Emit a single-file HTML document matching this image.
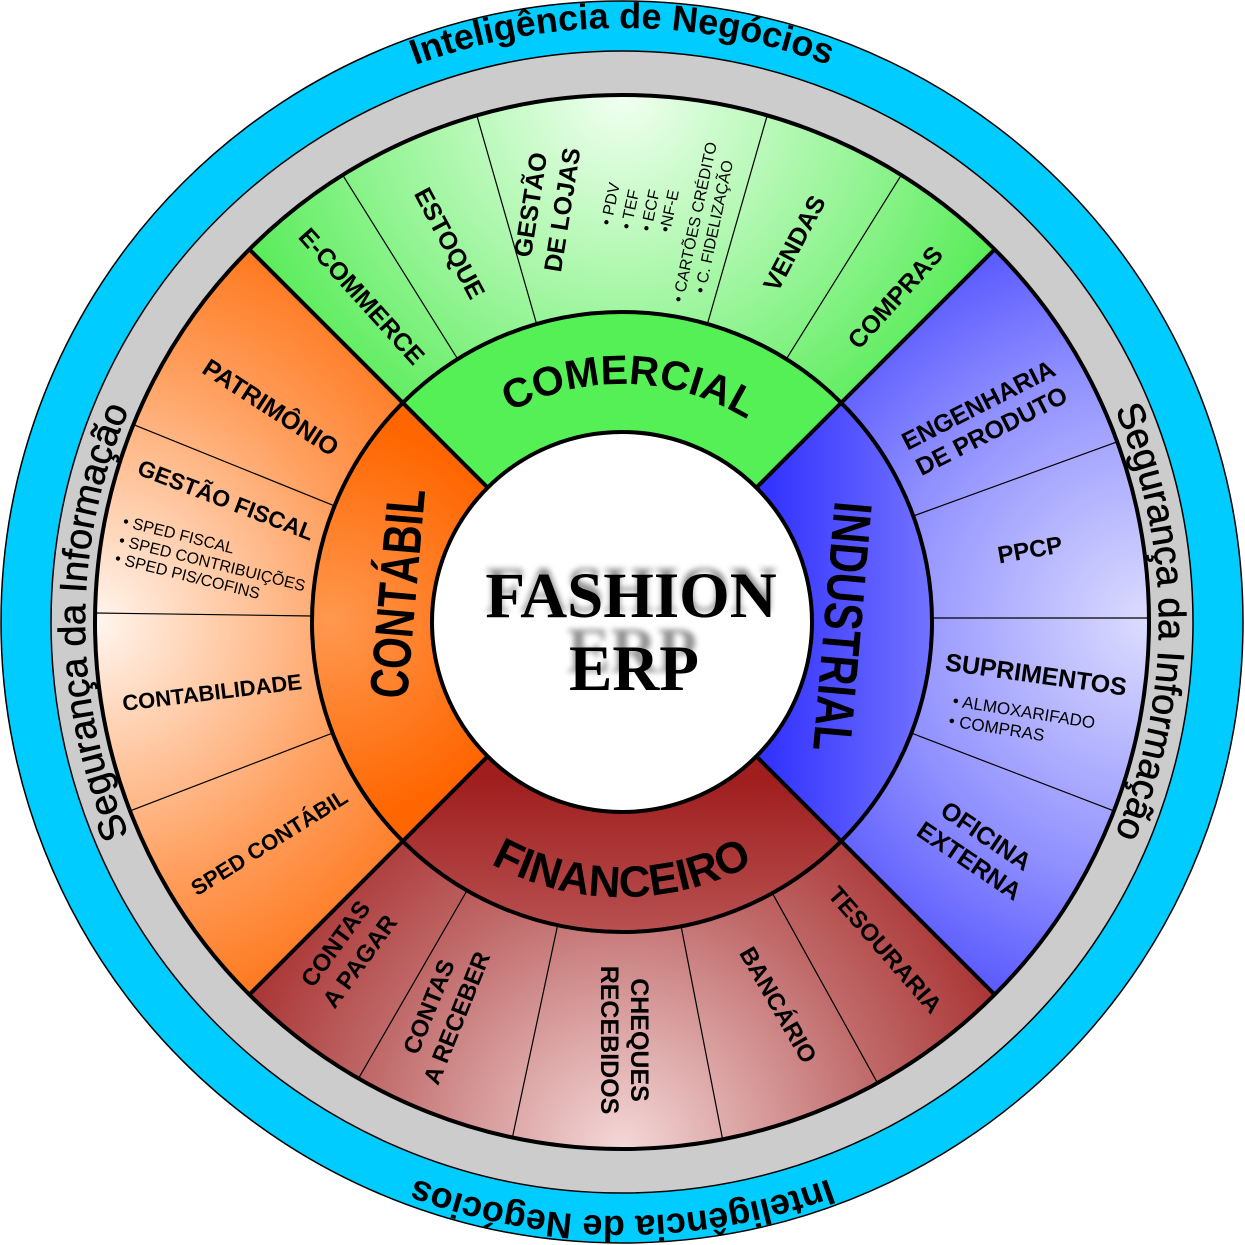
<!DOCTYPE html>
<html><head><meta charset="utf-8"><style>html,body{margin:0;padding:0;background:#fff}svg{display:block}</style></head>
<body>
<svg width="1245" height="1245" viewBox="0 0 1245 1245" xmlns="http://www.w3.org/2000/svg" font-family="'Liberation Sans', sans-serif">
<defs>
<radialGradient id="gG" gradientUnits="userSpaceOnUse" cx="622" cy="95" r="470"><stop offset="0" stop-color="#f2fff2"/><stop offset="0.5" stop-color="#9af59a"/><stop offset="1" stop-color="#3ee83e"/></radialGradient>
<radialGradient id="gO" gradientUnits="userSpaceOnUse" cx="95" cy="622" r="470"><stop offset="0" stop-color="#fff6ef"/><stop offset="0.55" stop-color="#ffa060"/><stop offset="1" stop-color="#ff6600"/></radialGradient>
<radialGradient id="gB" gradientUnits="userSpaceOnUse" cx="1149" cy="622" r="470"><stop offset="0" stop-color="#dcdcff"/><stop offset="0.55" stop-color="#9090ff"/><stop offset="1" stop-color="#4040ff"/></radialGradient>
<radialGradient id="gR" gradientUnits="userSpaceOnUse" cx="622" cy="1149" r="470"><stop offset="0" stop-color="#f4d8d8"/><stop offset="0.55" stop-color="#c06a6a"/><stop offset="1" stop-color="#a01c1c"/></radialGradient>
<radialGradient id="rO" gradientUnits="userSpaceOnUse" cx="330" cy="622" r="200"><stop offset="0" stop-color="#ff9850"/><stop offset="1" stop-color="#ff6600"/></radialGradient>
<linearGradient id="rB" gradientUnits="userSpaceOnUse" x1="770" y1="0" x2="935" y2="0"><stop offset="0" stop-color="#3434ff"/><stop offset="1" stop-color="#7474ff"/></linearGradient>
<linearGradient id="rR" gradientUnits="userSpaceOnUse" x1="0" y1="780" x2="0" y2="935"><stop offset="0" stop-color="#a01e1e"/><stop offset="1" stop-color="#b85252"/></linearGradient>
<filter id="blur" x="-10%" y="-30%" width="120%" height="160%"><feGaussianBlur stdDeviation="3"/></filter>
<path id="pCom" d="M415.9,503 A238,238 0 0 1 828.1,503"/>
<path id="pFin" d="M383.8,759.5 A275,275 0 0 0 860.2,759.5"/>
<path id="pTop" d="M107.6,325 A594,594 0 0 1 1136.4,325"/>
<path id="pBot" d="M1136.4,919 A594,594 0 0 1 107.6,919"/>
<path id="pLeft" d="M353.5,1087 A537,537 0 0 1 353.5,157"/>
<path id="pRight" d="M890.5,157 A537,537 0 0 1 890.5,1087"/>
</defs>

<circle cx="622" cy="622" r="621" fill="#00ccff" stroke="#000" stroke-width="1.5"/>
<circle cx="622" cy="622" r="571" fill="#cccccc" stroke="#000" stroke-width="1.5"/>

<path d="M622,622 L249.4,249.4 A527,527 0 0 1 994.6,249.4 Z" fill="url(#gG)"/>
<path d="M622,622 L994.6,249.4 A527,527 0 0 1 994.6,994.6 Z" fill="url(#gB)"/>
<path d="M622,622 L994.6,994.6 A527,527 0 0 1 249.4,994.6 Z" fill="url(#gR)"/>
<path d="M622,622 L249.4,994.6 A527,527 0 0 1 249.4,249.4 Z" fill="url(#gO)"/>
<path d="M622,622 L402.8,402.8 A310,310 0 0 1 841.2,402.8 Z" fill="#55f055"/>
<path d="M622,622 L841.2,402.8 A310,310 0 0 1 841.2,841.2 Z" fill="url(#rB)"/>
<path d="M622,622 L841.2,841.2 A310,310 0 0 1 402.8,841.2 Z" fill="url(#rR)"/>
<path d="M622,622 L402.8,841.2 A310,310 0 0 1 402.8,402.8 Z" fill="url(#rO)"/>

<g stroke="#000" stroke-width="1.2">
<line x1="536.6" y1="324" x2="476.8" y2="115.4"/>
<line x1="707.4" y1="324" x2="767.2" y2="115.4"/>
<line x1="457.7" y1="359.1" x2="342.7" y2="175.1"/>
<line x1="786.3" y1="359.1" x2="901.3" y2="175.1"/>
<line x1="932" y1="618" x2="1149" y2="618"/>
<line x1="913.3" y1="516" x2="1117.2" y2="441.8"/>
<line x1="911.4" y1="733.1" x2="1114" y2="810.9"/>
<line x1="312" y1="616" x2="95" y2="613"/>
<line x1="334.6" y1="505.9" x2="133.4" y2="424.6"/>
<line x1="332.6" y1="733.1" x2="130" y2="810.9"/>
<line x1="467" y1="890.5" x2="358.5" y2="1078.4"/>
<line x1="557.6" y1="925.2" x2="512.4" y2="1137.5"/>
<line x1="681.1" y1="926.3" x2="722.6" y2="1139.3"/>
<line x1="772.3" y1="893.1" x2="877.5" y2="1082.9"/>
</g>
<g stroke="#000" stroke-width="4" fill="none">
<circle cx="622" cy="622" r="527"/>
<circle cx="622" cy="622" r="310"/>
<line x1="249.4" y1="249.4" x2="994.6" y2="994.6"/>
<line x1="994.6" y1="249.4" x2="249.4" y2="994.6"/>
</g>
<circle cx="622" cy="622" r="190" fill="#fff" stroke="#000" stroke-width="4"/>

<g font-family="'Liberation Serif', serif" font-weight="bold" font-size="65" text-anchor="middle">
<g fill="#777" filter="url(#blur)" opacity="0.8"><text x="631" y="611">FASHION</text><text x="632" y="672">ERP</text></g>
<text x="631" y="617" fill="#000">FASHION</text>
<text x="634" y="690" fill="#000">ERP</text>
</g>

<g font-weight="bold" fill="#000" text-anchor="middle">
<text font-size="41"><textPath href="#pCom" startOffset="51.5%">COMERCIAL</textPath></text>
<text font-size="44"><textPath href="#pFin" startOffset="50%">FINANCEIRO</textPath></text>
<text font-size="36"><textPath href="#pTop" startOffset="50%">Inteligência de Negócios</textPath></text>
<text font-size="36"><textPath href="#pBot" startOffset="50%">Inteligência de Negócios</textPath></text>
<text transform="translate(416,595) rotate(-85)" font-size="54" textLength="210" lengthAdjust="spacingAndGlyphs">CONTÁBIL</text>
<text transform="translate(824,625) rotate(95)" font-size="54" textLength="250" lengthAdjust="spacingAndGlyphs">INDUSTRIAL</text>
</g>
<g fill="#000" text-anchor="middle" font-size="38" stroke="#000" stroke-width="0.6">
<text><textPath href="#pLeft" startOffset="50%">Segurança da Informação</textPath></text>
<text><textPath href="#pRight" startOffset="50%">Segurança da Informação</textPath></text>
</g>

<g font-weight="bold" fill="#000" text-anchor="middle" font-size="25">
<text transform="translate(362,296) rotate(48)" dy="9">E-COMMERCE</text>
<text transform="translate(450,243) rotate(62)" dy="9">ESTOQUE</text>
<text transform="translate(545,207) rotate(-81)"><tspan x="0" dy="-6">GESTÃO</tspan><tspan x="0" dy="32">DE LOJAS</tspan></text>
<text transform="translate(794,243) rotate(-62)" dy="9">VENDAS</text>
<text transform="translate(895,297) rotate(-48)" dy="9">COMPRAS</text>

<text transform="translate(271,407) rotate(33)" dy="9">PATRIMÔNIO</text>
<text transform="translate(226,500) rotate(21)" dy="8" font-size="23">GESTÃO FISCAL</text>
<text transform="translate(212,692) rotate(-7)" dy="8" font-size="22">CONTABILIDADE</text>
<text transform="translate(269,842) rotate(-32)" dy="8" font-size="22">SPED CONTÁBIL</text>

<text transform="translate(985,418) rotate(-27)" font-size="25"><tspan x="0" dy="-6">ENGENHARIA</tspan><tspan x="0" dy="29">DE PRODUTO</tspan></text>
<text transform="translate(1030,550) rotate(-10)" dy="8" font-size="24">PPCP</text>
<text transform="translate(1036,675) rotate(8)" dy="8" font-size="25">SUPRIMENTOS</text>
<text transform="translate(978,848) rotate(34)" font-size="25"><tspan x="0" dy="-6">OFICINA</tspan><tspan x="0" dy="30">EXTERNA</tspan></text>

<text transform="translate(347,952) rotate(-54)" font-size="24"><tspan x="0" dy="-6">CONTAS</tspan><tspan x="0" dy="30">A PAGAR</tspan></text>
<text transform="translate(442,1012) rotate(-68)" font-size="24"><tspan x="0" dy="-6">CONTAS</tspan><tspan x="0" dy="30">A RECEBER</tspan></text>
<text transform="translate(625,1040) rotate(90)" font-size="25"><tspan x="0" dy="-6">CHEQUES</tspan><tspan x="0" dy="30">RECEBIDOS</tspan></text>
<text transform="translate(778,1005) rotate(60)" dy="8" font-size="24">BANCÁRIO</text>
<text transform="translate(885,950) rotate(49)" dy="8" font-size="24">TESOURARIA</text>
</g>

<g fill="#000" font-size="16">
<text transform="translate(611,226) rotate(-78)">• PDV</text>
<text transform="translate(631,230) rotate(-78)">• TEF</text>
<text transform="translate(651,232) rotate(-78)">• ECF</text>
<text transform="translate(670,233) rotate(-78)">•NF-E</text>
<text transform="translate(683,303) rotate(-78)">• CARTÕES CRÉDITO</text>
<text transform="translate(705,294) rotate(-78)">• C. FIDELIZAÇÃO</text>

<text transform="translate(122,526) rotate(14)">• SPED FISCAL</text>
<text transform="translate(118,545) rotate(14)">• SPED CONTRIBUIÇÕES</text>
<text transform="translate(114,563) rotate(14)">• SPED PIS/COFINS</text>

<text transform="translate(952,706) rotate(9)" font-size="17">• ALMOXARIFADO</text>
<text transform="translate(948,726) rotate(9)" font-size="17">• COMPRAS</text>
</g>
</svg>
</body></html>
